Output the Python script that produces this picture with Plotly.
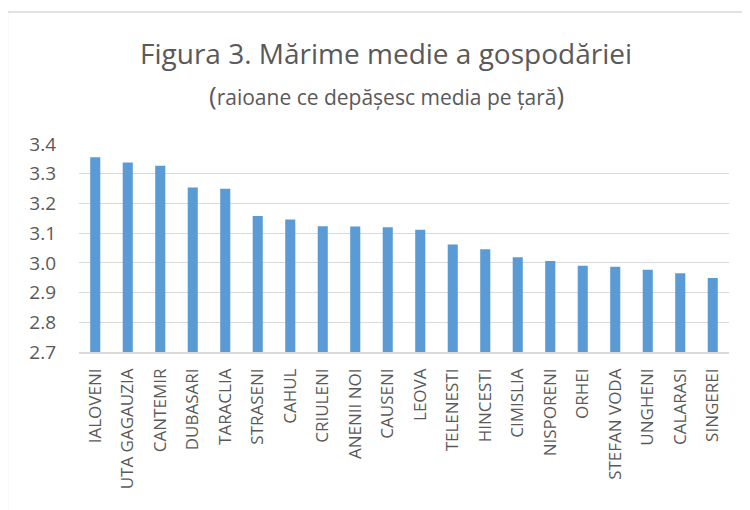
import plotly.graph_objects as go

districts = ["IALOVENI", "UTA GAGAUZIA", "CANTEMIR", "DUBASARI", "TARACLIA", "STRASENI",
             "CAHUL", "CRIULENI", "ANENII NOI", "CAUSENI", "LEOVA", "TELENESTI",
             "HINCESTI", "CIMISLIA", "NISPORENI", "ORHEI", "STEFAN VODA", "UNGHENI",
             "CALARASI", "SINGEREI"]
avg_size = [3.355, 3.338, 3.327, 3.254, 3.249, 3.158, 3.146, 3.123, 3.122, 3.120,
            3.111, 3.062, 3.046, 3.019, 3.006, 2.990, 2.987, 2.977, 2.965, 2.949]
y_ticks = [2.7, 2.8, 2.9, 3.0, 3.1, 3.2, 3.3, 3.4]
y_tick_labels = ["2.7", "2.8", "2.9", "3.0", "3.1", "3.2", "3.3", "3.4"]

OFF = 8  # page body margin
W, H = 742, 502
L, R, T, B = 71, 21, 136, 158
pw, ph = W - L - R, H - T - B

def px(x):
    return (x - OFF - L) / pw

def py(y):
    return (H - B - (y - OFF)) / ph

txt = "#595959"
fig = go.Figure(go.Bar(x=districts, y=avg_size, marker_color="#5B9BD5",
                       marker_line_width=0))
fig.update_layout(
    width=W, height=H, margin=dict(l=L, r=R, t=T, b=B),
    paper_bgcolor="white", plot_bgcolor="white",
    bargap=0.69, showlegend=False,
    font=dict(family="Open Sans", color=txt),
    xaxis=dict(tickangle=-90, tickfont=dict(size=17, color=txt), showline=True,
               linecolor="#D9D9D9", linewidth=1.5, ticks="", ticklabelstandoff=8),
    yaxis=dict(range=[2.7, 3.4], tickvals=y_ticks, ticktext=y_tick_labels,
               tickfont=dict(size=19, color=txt), showgrid=True, gridcolor="#D9D9D9",
               gridwidth=1.3, zeroline=False, ticks="", ticklabelstandoff=22),
    shapes=[dict(type="rect", xref="paper", yref="paper", x0=px(7.5), x1=px(790),
                 y0=py(560), y1=py(12), line=dict(color="#D9D9D9", width=1.3),
                 fillcolor="rgba(0,0,0,0)", layer="below")],
    annotations=[
        dict(text="Figura 3. Mărime medie a gospodăriei", xref="paper", yref="paper",
             x=px(386), y=py(53), showarrow=False, font=dict(size=28, color=txt),
             xanchor="center", yanchor="middle"),
        dict(text="<span style='font-size:26px'>(</span>raioane ce depășesc media pe țară<span style='font-size:26px'>)</span>",
             xref="paper", yref="paper",
             x=px(386), y=py(95), showarrow=False, font=dict(size=21, color=txt),
             xanchor="center", yanchor="middle"),
    ],
)
fig.write_html("out.html")
